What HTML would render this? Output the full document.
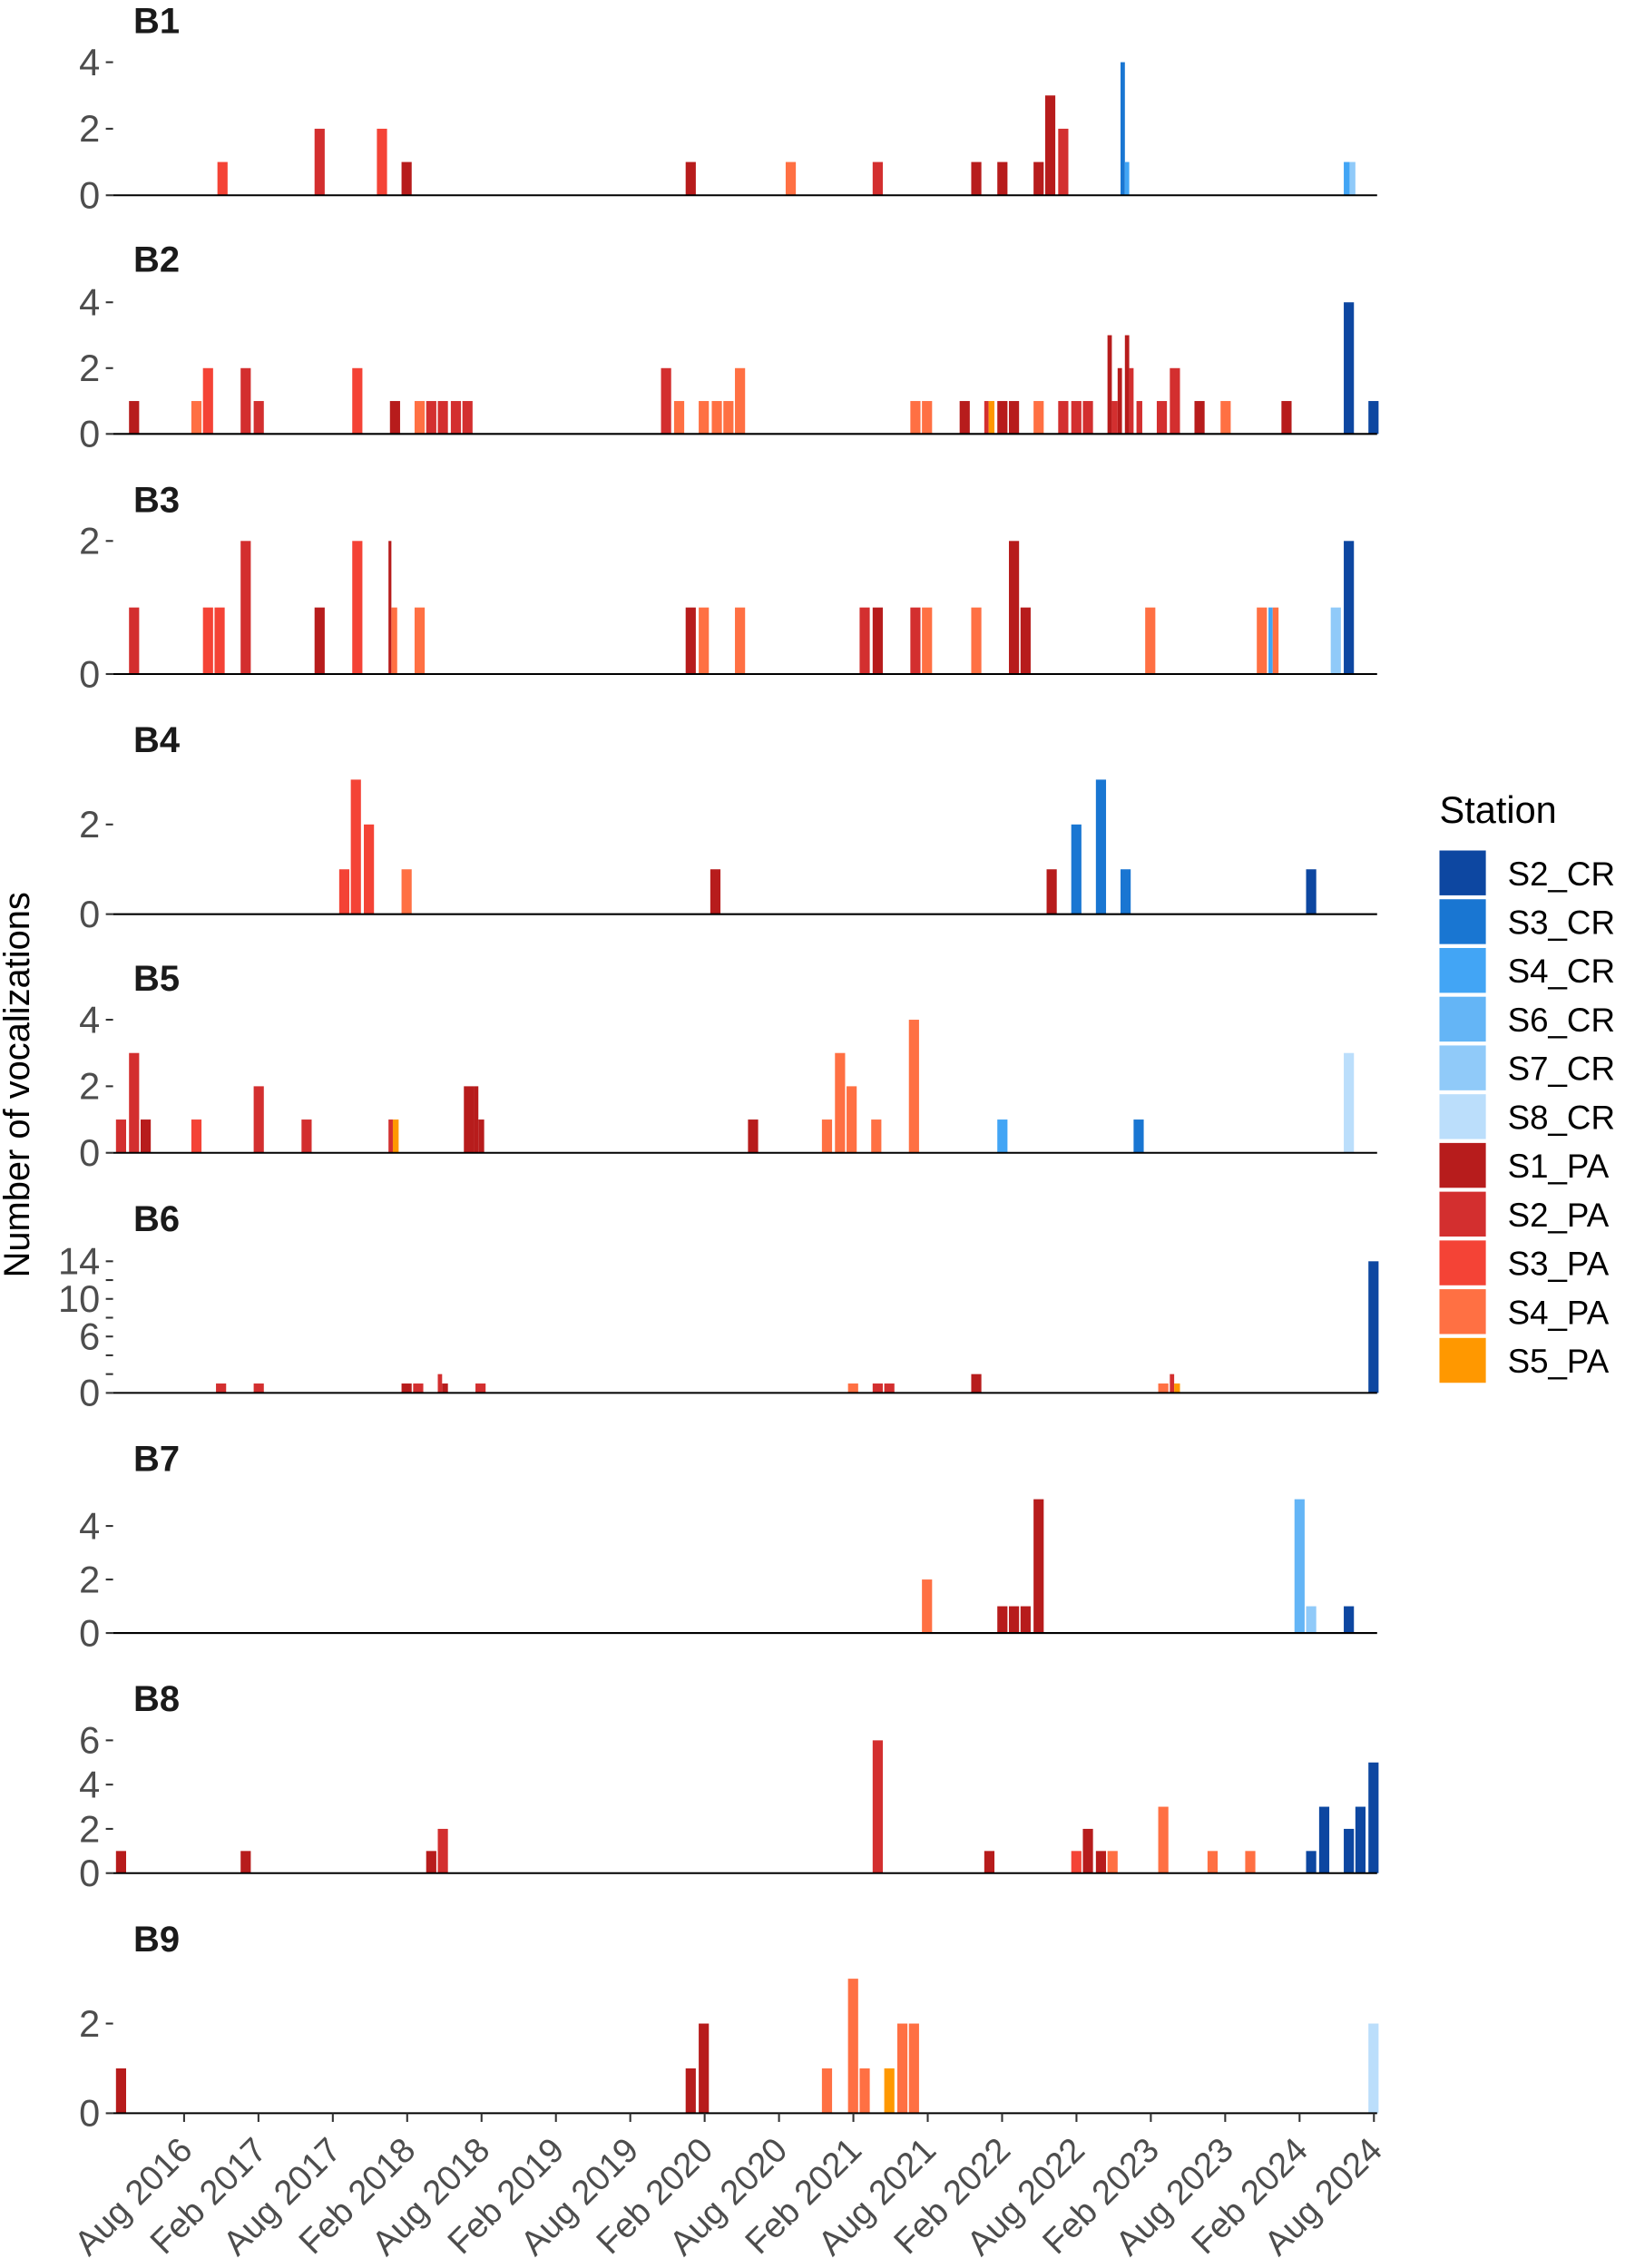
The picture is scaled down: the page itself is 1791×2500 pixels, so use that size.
<!DOCTYPE html>
<html><head><meta charset="utf-8">
<style>
html,body{margin:0;padding:0;background:#fff;}
svg{display:block;}
text{font-family:"Liberation Sans",Arial,sans-serif;}
</style></head>
<body>
<svg id="s" width="1791" height="2500" viewBox="0 0 1121 1568" preserveAspectRatio="none" xmlns="http://www.w3.org/2000/svg"></svg>
<script>
const C={S2_CR:"#0d47a1",S3_CR:"#1976d2",S4_CR:"#42a5f5",S6_CR:"#64b5f6",S7_CR:"#90caf9",S8_CR:"#bbdefb",
S1_PA:"#b71c1c",S2_PA:"#d32f2f",S3_PA:"#f44336",S4_PA:"#ff7043",S5_PA:"#ff9800"};
const a={S1:"S1_PA",S2:"S2_PA",S3:"S3_PA",S4:"S4_PA",S5:"S5_PA"};
function c(k){return C[a[k]||k]||C[k];}
const panels=[
{t:"B1",b:135,u:23,ticks:[0,2,4],bars:[[150,1,"S3"],[217,2,"S2"],[260,2,"S3"],[277,1,"S1"],[473,1,"S1"],[542,1,"S4"],[602,1,"S2"],[670,1,"S1"],[688,1,"S1"],[713,1,"S1"],[721,3,"S1"],[730,2,"S2"],[773,4,"S3_CR",3],[776,1,"S4_CR",3],[927,1,"S4_CR",4],[931,1,"S7_CR",4]]},
{t:"B2",b:300,u:22.75,ticks:[0,2,4],bars:[[89,1,"S1"],[132,1,"S4"],[140,2,"S3"],[166,2,"S2"],[175,1,"S2"],[243,2,"S3"],[269,1,"S1"],[286,1,"S4"],[294,1,"S2"],[302,1,"S2"],[311,1,"S2"],[319,1,"S2"],[456,2,"S2"],[465,1,"S4"],[482,1,"S4"],[491,1,"S4"],[499,1,"S4"],[507,2,"S4"],[628,1,"S4"],[636,1,"S4"],[662,1,"S1"],[679,1,"S2",3],[682,1,"S5",4],[688,1,"S1"],[696,1,"S1"],[713,1,"S4"],[730,1,"S2"],[739,1,"S2"],[747,1,"S2"],[764,3,"S1",3],[767,1,"S2",4],[771,2,"S1",3],[776,3,"S1",3],[779,2,"S2",3],[784,1,"S2",4],[798,1,"S2"],[807,2,"S2"],[824,1,"S1"],[842,1,"S4"],[884,1,"S1"],[927,4,"S2_CR"],[944,1,"S2_CR"]]},
{t:"B3",b:466,u:46,ticks:[0,2],bars:[[89,1,"S2"],[140,1,"S3"],[148,1,"S3"],[166,2,"S2"],[217,1,"S1"],[243,2,"S3"],[268,2,"S1",2],[270,1,"S4",4],[286,1,"S4"],[473,1,"S1"],[482,1,"S4"],[507,1,"S4"],[593,1,"S2"],[602,1,"S1"],[628,1,"S2"],[636,1,"S4"],[670,1,"S4"],[696,2,"S1"],[704,1,"S1"],[790,1,"S4"],[867,1,"S4"],[875,1,"S4_CR",3],[878,1,"S4",4],[918,1,"S7_CR"],[927,2,"S2_CR"]]},
{t:"B4",b:632,u:31,ticks:[0,2],bars:[[234,1,"S3"],[242,3,"S3"],[251,2,"S3"],[277,1,"S4"],[490,1,"S1"],[722,1,"S1"],[739,2,"S3_CR"],[756,3,"S3_CR"],[773,1,"S3_CR"],[901,1,"S2_CR"]]},
{t:"B5",b:797,u:23,ticks:[0,2,4],bars:[[80,1,"S2"],[89,3,"S2"],[97,1,"S1"],[132,1,"S3"],[175,2,"S2"],[208,1,"S2"],[268,1,"S2",3],[271,1,"S5",4],[320,2,"S1"],[327,2,"S1",3],[330,1,"S1",4],[516,1,"S1"],[567,1,"S4"],[576,3,"S4"],[584,2,"S4"],[601,1,"S4"],[627,4,"S4"],[688,1,"S4_CR"],[782,1,"S3_CR"],[927,3,"S8_CR"]]},
{t:"B6",b:963,u:6.5,ticks:[0,6,10,14],minor:[2,4,8,12],bars:[[149,1,"S2"],[175,1,"S2"],[277,1,"S1"],[285,1,"S2"],[302,2,"S2",3],[305,1,"S1",4],[328,1,"S2"],[585,1,"S4"],[602,1,"S2"],[610,1,"S2"],[670,2,"S1"],[799,1,"S4"],[807,2,"S2",3],[810,1,"S5",4],[944,14,"S2_CR"]]},
{t:"B7",b:1129,u:18.5,ticks:[0,2,4],bars:[[636,2,"S4"],[688,1,"S1"],[696,1,"S1"],[704,1,"S1"],[713,5,"S1"],[893,5,"S6_CR"],[901,1,"S7_CR"],[927,1,"S2_CR"]]},
{t:"B8",b:1295,u:15.3,ticks:[0,2,4,6],bars:[[80,1,"S1"],[166,1,"S1"],[294,1,"S1"],[302,2,"S2"],[602,6,"S2"],[679,1,"S1"],[739,1,"S3"],[747,2,"S1"],[756,1,"S1"],[764,1,"S4"],[799,3,"S4"],[833,1,"S4"],[859,1,"S4"],[901,1,"S2_CR"],[910,3,"S2_CR"],[927,2,"S2_CR"],[935,3,"S2_CR"],[944,5,"S2_CR"]]},
{t:"B9",b:1461,u:31,ticks:[0,2],bars:[[80,1,"S1"],[473,1,"S1"],[482,2,"S1"],[567,1,"S4"],[585,3,"S4"],[593,1,"S4"],[610,1,"S5"],[619,2,"S4"],[627,2,"S4"],[944,2,"S8_CR"]]}
];
let h="";
for(const p of panels){
 h+=`<text x="92" y="${p.b-112}" font-size="25" font-weight="bold" fill="#1a1a1a">${p.t}</text>`;
 for(const br of p.bars){const w=br[3]||7;const ht=br[1]*p.u;
  h+=`<rect x="${br[0]}" y="${p.b-ht}" width="${w}" height="${ht}" fill="${c(br[2])}"/>`;}
 h+=`<line x1="78" y1="${p.b}" x2="950" y2="${p.b}" stroke="#000" stroke-width="1.3"/>`;
 for(const t of p.ticks){const y=p.b-t*p.u;
  h+=`<line x1="73" y1="${y}" x2="78" y2="${y}" stroke="#333" stroke-width="1.3"/>`;
  h+=`<text x="69" y="${y+9}" font-size="26" text-anchor="end" fill="#4d4d4d">${t}</text>`;}
 if(p.minor)for(const t of p.minor){const y=p.b-t*p.u;h+=`<line x1="73" y1="${y}" x2="78" y2="${y}" stroke="#333" stroke-width="1.3"/>`;}
}
const L=["Aug 2016","Feb 2017","Aug 2017","Feb 2018","Aug 2018","Feb 2019","Aug 2019","Feb 2020","Aug 2020","Feb 2021","Aug 2021","Feb 2022","Aug 2022","Feb 2023","Aug 2023","Feb 2024","Aug 2024"];
L.forEach((s,i)=>{const x=127+i*51.3;
 h+=`<line x1="${x}" y1="1461" x2="${x}" y2="1467" stroke="#333" stroke-width="1.3"/>`;
 h+=`<text transform="translate(${x+7},1488) rotate(-45)" font-size="24" text-anchor="end" fill="#4d4d4d">${s}</text>`;});
h+=`<text transform="translate(20,750) rotate(-90)" font-size="25" text-anchor="middle" fill="#000">Number of vocalizations</text>`;
h+=`<text x="993" y="569" font-size="26" fill="#000">Station</text>`;
const ks=["S2_CR","S3_CR","S4_CR","S6_CR","S7_CR","S8_CR","S1_PA","S2_PA","S3_PA","S4_PA","S5_PA"];
ks.forEach((k,i)=>{const y=588+i*33.7;
 h+=`<rect x="993" y="${y}" width="32" height="31" fill="${C[k]}"/>`;
 h+=`<text x="1040" y="${y+24}" font-size="23" fill="#000">${k}</text>`;});
document.getElementById("s").innerHTML=h;
</script>
</body></html>
